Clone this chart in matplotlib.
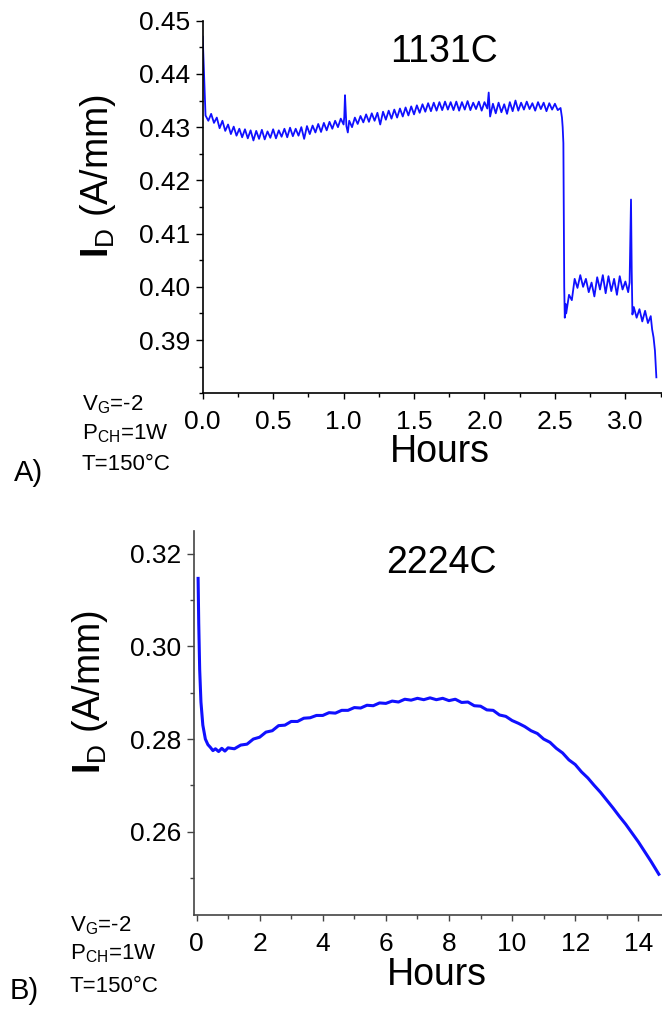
import numpy as np
import matplotlib
matplotlib.use('Agg')
import matplotlib.pyplot as plt
from matplotlib.ticker import MultipleLocator, FormatStrFormatter

plt.rcParams['font.family'] = ['Liberation Sans', 'DejaVu Sans']
plt.rcParams['mathtext.fontset'] = 'custom'
plt.rcParams['mathtext.rm'] = 'Liberation Sans'
plt.rcParams['mathtext.bf'] = 'Liberation Sans:bold'

# ---- data ----
# panel A, device 1131C
hours_a = [0.00,
           0.02, 0.04, 0.06, 0.08, 0.10, 0.12, 0.14, 0.16, 0.18, 0.20,
           0.22, 0.24, 0.26, 0.28, 0.30, 0.32, 0.34, 0.36, 0.38, 0.40,
           0.42, 0.44, 0.46, 0.48, 0.50, 0.52, 0.54, 0.56, 0.58, 0.60,
           0.62, 0.64, 0.66, 0.68, 0.70, 0.72, 0.74, 0.76, 0.78, 0.80,
           0.82, 0.84, 0.86, 0.88, 0.90, 0.92, 0.94, 0.96, 0.98, 1.00,
           1.005, 1.01, 1.02, 1.03,
           1.04, 1.06, 1.08, 1.10, 1.12, 1.14, 1.16, 1.18, 1.20, 1.22,
           1.24, 1.26, 1.28, 1.30, 1.32, 1.34, 1.36, 1.38, 1.40, 1.42,
           1.44, 1.46, 1.48, 1.50, 1.52, 1.54, 1.56, 1.58, 1.60, 1.62,
           1.64, 1.66, 1.68, 1.70, 1.72, 1.74, 1.76, 1.78, 1.80, 1.82,
           1.84, 1.86, 1.88, 1.90, 1.92, 1.94, 1.96, 1.98, 2.00, 2.02,
           2.03,
           2.04, 2.06, 2.08, 2.10, 2.12, 2.14, 2.16, 2.18, 2.20, 2.22,
           2.24, 2.26, 2.28, 2.30, 2.32, 2.34, 2.36, 2.38, 2.40, 2.42,
           2.44, 2.46, 2.48, 2.50, 2.52, 2.54,
           2.55, 2.555, 2.56, 2.563, 2.566, 2.57, 2.575,
           2.58, 2.60, 2.62, 2.64, 2.66, 2.68, 2.70, 2.72, 2.74, 2.76,
           2.78, 2.80, 2.82, 2.84, 2.86, 2.88, 2.90, 2.92, 2.94, 2.96,
           2.98, 3.00, 3.02,
           3.03, 3.04, 3.045, 3.05,
           3.06, 3.08, 3.10, 3.12, 3.14, 3.16, 3.18,
           3.19, 3.20, 3.21, 3.22]
current_a = [0.4470,
             0.4322, 0.4312, 0.4325, 0.4308, 0.4318, 0.4298, 0.4312, 0.4293, 0.4305, 0.4287,
             0.4301, 0.4284, 0.4297, 0.4281, 0.4296, 0.4279, 0.4294, 0.4275, 0.4293, 0.4278,
             0.4295, 0.4277, 0.4292, 0.4280, 0.4296, 0.4279, 0.4294, 0.4282, 0.4297, 0.4281,
             0.4299, 0.4283, 0.4297, 0.4284, 0.4300, 0.4278, 0.4302, 0.4287, 0.4303, 0.4290,
             0.4306, 0.4291, 0.4308, 0.4294, 0.4310, 0.4297, 0.4312, 0.4300, 0.4316, 0.4305,
             0.4320, 0.4360, 0.4302, 0.4290,
             0.4312, 0.4300, 0.4318, 0.4306, 0.4321, 0.4309, 0.4324, 0.4310, 0.4326, 0.4312,
             0.4327, 0.4305, 0.4329, 0.4314, 0.4331, 0.4316, 0.4333, 0.4318, 0.4335, 0.4320,
             0.4337, 0.4322, 0.4339, 0.4324, 0.4341, 0.4327, 0.4343, 0.4329, 0.4345, 0.4330,
             0.4346, 0.4331, 0.4347, 0.4332, 0.4348, 0.4333, 0.4347, 0.4332, 0.4348, 0.4331,
             0.4347, 0.4333, 0.4349, 0.4332, 0.4346, 0.4334, 0.4348, 0.4331, 0.4347, 0.4335,
             0.4365,
             0.4320, 0.4344, 0.4326, 0.4346, 0.4328, 0.4343, 0.4325, 0.4347, 0.4330, 0.4350,
             0.4331, 0.4346, 0.4333, 0.4348, 0.4334, 0.4345, 0.4331, 0.4347, 0.4334, 0.4346,
             0.4330, 0.4345, 0.4333, 0.4344, 0.4332, 0.4336,
             0.4318, 0.4300, 0.4270, 0.4150, 0.4000, 0.3942, 0.3968,
             0.3950, 0.3985, 0.3975, 0.4015, 0.3998, 0.4022, 0.4000, 0.4015, 0.3990, 0.4008,
             0.3982, 0.4018, 0.3995, 0.4022, 0.3988, 0.4020, 0.3992, 0.4015, 0.3985, 0.4020,
             0.3995, 0.4010, 0.3990,
             0.4008, 0.4164, 0.4030, 0.3948,
             0.3962, 0.3942, 0.3958, 0.3935, 0.3955, 0.3932, 0.3945,
             0.3920, 0.3905, 0.3880, 0.3830]

# panel B, device 2224C
hours_b = [0.05, 0.07, 0.10, 0.14, 0.20, 0.28, 0.36, 0.44, 0.52, 0.60,
           0.70, 0.80, 0.90, 1.00, 1.2, 1.4, 1.6, 1.8, 2.0, 2.2,
           2.4, 2.6, 2.8, 3.0, 3.2, 3.4, 3.6, 3.8, 4.0, 4.2,
           4.4, 4.6, 4.8, 5.0, 5.2, 5.4, 5.6, 5.8, 6.0, 6.2,
           6.4, 6.6, 6.8, 7.0, 7.2, 7.4, 7.6, 7.8, 8.0, 8.2,
           8.4, 8.6, 8.8, 9.0, 9.2, 9.4, 9.6, 9.8, 10.0, 10.2,
           10.4, 10.6, 10.8, 11.0, 11.2, 11.4, 11.6, 11.8, 12.0, 12.2,
           12.4, 12.6, 12.8, 13.0, 13.2, 13.4, 13.6, 13.8, 14.0, 14.2,
           14.4, 14.65]
current_b = [0.3147, 0.3050, 0.2950, 0.2880, 0.2830, 0.2800, 0.2788, 0.2782, 0.2775, 0.2779,
             0.2773, 0.2780, 0.2774, 0.2781, 0.2779, 0.2787, 0.2789, 0.2800, 0.2804, 0.2815,
             0.2818, 0.2829, 0.2830, 0.2838, 0.2838, 0.2845, 0.2846, 0.2851, 0.2851, 0.2857,
             0.2856, 0.2862, 0.2862, 0.2868, 0.2867, 0.2873, 0.2872, 0.2878, 0.2877, 0.2882,
             0.2880, 0.2886, 0.2884, 0.2888, 0.2885, 0.2889, 0.2885, 0.2888, 0.2883, 0.2886,
             0.2879, 0.2880, 0.2872, 0.2871, 0.2863, 0.2862, 0.2852, 0.2849, 0.2840, 0.2834,
             0.2827, 0.2818, 0.2812, 0.2800, 0.2793, 0.2780, 0.2770, 0.2755, 0.2745, 0.2729,
             0.2716, 0.2700, 0.2685, 0.2668, 0.2651, 0.2633, 0.2616, 0.2597, 0.2578, 0.2557,
             0.2536, 0.2508]

xticks_a = [0.0, 0.5, 1.0, 1.5, 2.0, 2.5, 3.0]
yticks_a = [0.39, 0.40, 0.41, 0.42, 0.43, 0.44, 0.45]
xticks_b = [0, 2, 4, 6, 8, 10, 12, 14]
yticks_b = [0.26, 0.28, 0.30, 0.32]

conditions = [r'V$_{\mathregular{G}}$=-2', r'P$_{\mathregular{CH}}$=1W', 'T=150°C']
ylabel = r'$\mathbf{I}_{\mathregular{D}}$ (A/mm)'

W, H = 662, 1014
fig = plt.figure(figsize=(W / 100, H / 100), dpi=100)


def fx(px):
    return px / W


def fy(py):
    return 1 - py / H


def style_axes(ax, spine_color):
    for s in ('top', 'right'):
        ax.spines[s].set_visible(False)
    for s in ('left', 'bottom'):
        ax.spines[s].set_color(spine_color)
        ax.spines[s].set_linewidth(1.2)
    ax.tick_params(which='major', direction='out', width=1,
                   labelsize=19, colors=spine_color, labelcolor='black')
    ax.tick_params(which='minor', direction='out', length=3, width=1,
                   colors=spine_color)
    ax.tick_params(axis='x', which='major', length=4, pad=8)
    ax.tick_params(axis='y', which='major', length=5, pad=4)


# panel A
ax1 = fig.add_axes([fx(202.7), fy(393.3), fx(662 - 202.7), (393.3 - 20.7) / H])
ax1.plot(hours_a, current_a, color='#1010ff', lw=1.3)
ax1.set_xlim(0, 3.26)
ax1.set_ylim(0.38, 0.45)
ax1.set_xticks(xticks_a)
ax1.set_yticks(yticks_a)
ax1.xaxis.set_minor_locator(MultipleLocator(0.25))
ax1.yaxis.set_minor_locator(MultipleLocator(0.005))
ax1.xaxis.set_major_formatter(FormatStrFormatter('%.1f'))
ax1.yaxis.set_major_formatter(FormatStrFormatter('%.2f'))
style_axes(ax1, 'black')

# panel B
ax2 = fig.add_axes([fx(194), fy(915), fx(662 - 194), (915 - 530.7) / H])
ax2.plot(hours_b, current_b, color='#1010ff', lw=2.2)
ax2.set_xlim(-0.08, 14.75)
ax2.set_ylim(0.242, 0.325)
ax2.set_xticks(xticks_b)
ax2.set_yticks(yticks_b)
ax2.xaxis.set_minor_locator(MultipleLocator(1))
ax2.yaxis.set_minor_locator(MultipleLocator(0.01))
ax2.yaxis.set_major_formatter(FormatStrFormatter('%.2f'))
style_axes(ax2, '#444444')

# labels and annotations
for lab_x, lab_y, title, tx, ty, hx, hy in [
        (98, 176, '1131C', 444, 52, 440, 462),
        (90, 692, '2224C', 441, 563, 437, 985)]:
    fig.text(fx(lab_x), fy(lab_y), ylabel, rotation=90, ha='center',
             va='center', fontsize=27)
    fig.text(fx(tx), fy(ty), title, ha='center', va='center', fontsize=27)
    fig.text(fx(hx), fy(hy), 'Hours', ha='center', va='baseline', fontsize=27)

for x0, baselines in [(82, [410, 439, 470]), (70, [931, 959, 992])]:
    for txt, b in zip(conditions, baselines):
        fig.text(fx(x0), fy(b), txt, ha='left', va='baseline', fontsize=16)

fig.text(fx(14), fy(481), 'A)', ha='left', va='baseline', fontsize=21)
fig.text(fx(10), fy(999), 'B)', ha='left', va='baseline', fontsize=21)

fig.savefig('out.png', dpi=100)
